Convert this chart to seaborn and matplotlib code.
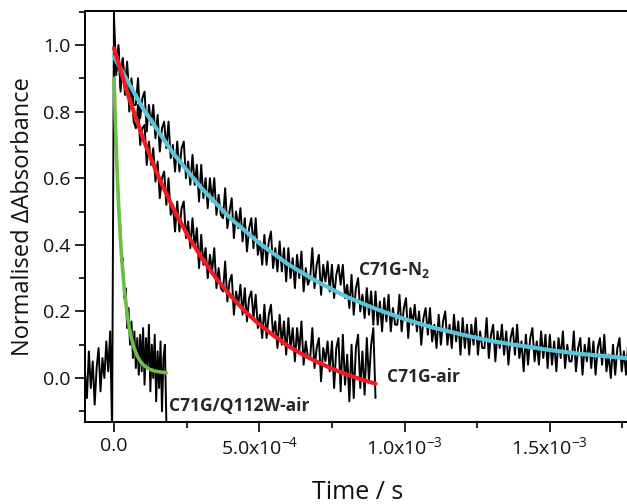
import numpy as np
import seaborn as sns
import matplotlib.pyplot as plt
from matplotlib.ticker import MultipleLocator

sns.set_theme(style="ticks")
plt.rcParams['font.family'] = ['Open Sans', 'DejaVu Sans']
plt.rcParams['mathtext.fontset'] = 'custom'
plt.rcParams['mathtext.rm'] = 'Open Sans'
plt.rcParams['mathtext.bf'] = 'Open Sans:bold'

# pre-trigger baseline, t = -1e-4 .. 0 s
base_t0, base_t1 = -1.0e-4, 0.0
base_y = [0.02, -0.06, 0.08, -0.03, 0.05, -0.08, 0.03, 0.09, -0.04, 0.06,
          0.00, 0.11, 0.02, 0.14, -0.16, 1.15]

# C71G-N2 trace, t = 0 .. 1.77e-3 s
n2_t1 = 1.77e-3
n2_y = [1.08, 0.91, 0.99, 0.86, 0.96, 0.87, 0.95, 0.83, 0.90, 0.82,
        0.82, 0.90, 0.78, 0.84, 0.86, 0.74, 0.82, 0.76, 0.82, 0.72,
        0.79, 0.68, 0.75, 0.77, 0.69, 0.77, 0.66, 0.70, 0.62, 0.71,
        0.62, 0.69, 0.71, 0.60, 0.65, 0.58, 0.67, 0.58, 0.64, 0.53,
        0.64, 0.54, 0.60, 0.51, 0.60, 0.53, 0.60, 0.49, 0.55, 0.49,
        0.48, 0.57, 0.45, 0.50, 0.54, 0.42, 0.50, 0.45, 0.51, 0.41,
        0.48, 0.38, 0.45, 0.48, 0.39, 0.48, 0.37, 0.41, 0.34, 0.43,
        0.34, 0.41, 0.44, 0.33, 0.39, 0.32, 0.41, 0.32, 0.39, 0.29,
        0.39, 0.30, 0.36, 0.27, 0.37, 0.30, 0.38, 0.26, 0.33, 0.28,
        0.30, 0.39, 0.27, 0.34, 0.37, 0.25, 0.34, 0.29, 0.35, 0.26,
        0.34, 0.24, 0.31, 0.34, 0.28, 0.34, 0.24, 0.28, 0.21, 0.31,
        0.19, 0.27, 0.30, 0.20, 0.25, 0.18, 0.27, 0.19, 0.26, 0.16,
        0.26, 0.16, 0.23, 0.14, 0.24, 0.17, 0.25, 0.14, 0.21, 0.16,
        0.16, 0.25, 0.14, 0.21, 0.24, 0.12, 0.21, 0.16, 0.22, 0.14,
        0.20, 0.10, 0.18, 0.21, 0.13, 0.21, 0.11, 0.16, 0.09, 0.19,
        0.10, 0.17, 0.20, 0.10, 0.16, 0.09, 0.19, 0.11, 0.17, 0.07,
        0.18, 0.09, 0.16, 0.07, 0.16, 0.10, 0.18, 0.07, 0.14, 0.09,
        0.09, 0.18, 0.06, 0.13, 0.16, 0.05, 0.14, 0.09, 0.16, 0.07,
        0.14, 0.04, 0.12, 0.15, 0.07, 0.16, 0.06, 0.11, 0.02, 0.13,
        0.04, 0.12, 0.15, 0.05, 0.11, 0.04, 0.14, 0.06, 0.13, 0.03,
        0.13, 0.04, 0.11, 0.02, 0.12, 0.06, 0.14, 0.03, 0.10, 0.05,
        0.05, 0.14, 0.02, 0.09, 0.12, 0.01, 0.10, 0.05, 0.12, 0.03,
        0.11, 0.01, 0.09, 0.12, 0.04, 0.13, 0.02, 0.07, 0.00, 0.10,
        0.01, 0.09, 0.12, 0.02, 0.08, 0.01, 0.11]

# C71G-air trace, t = 0 .. 9.0e-4 s
air_t1 = 9.0e-4
air_y = [1.03, 0.92, 1.00, 0.87, 0.96, 0.85, 0.93, 0.80, 0.88, 0.77,
         0.75, 0.82, 0.70, 0.75, 0.76, 0.64, 0.71, 0.64, 0.69, 0.59,
         0.65, 0.54, 0.60, 0.62, 0.52, 0.60, 0.49, 0.52, 0.44, 0.53,
         0.44, 0.51, 0.53, 0.42, 0.47, 0.39, 0.48, 0.39, 0.45, 0.33,
         0.43, 0.34, 0.39, 0.30, 0.37, 0.32, 0.39, 0.27, 0.33, 0.27,
         0.26, 0.35, 0.23, 0.29, 0.31, 0.19, 0.26, 0.22, 0.28, 0.19,
         0.27, 0.17, 0.24, 0.26, 0.18, 0.25, 0.15, 0.19, 0.12, 0.22,
         0.12, 0.19, 0.22, 0.13, 0.17, 0.09, 0.19, 0.10, 0.17, 0.07,
         0.18, 0.09, 0.15, 0.05, 0.15, 0.08, 0.17, 0.04, 0.11, 0.06,
         0.06, 0.15, 0.03, 0.09, 0.12, -0.01, 0.09, 0.05, 0.11, 0.02,
         0.11, -0.03, 0.09, 0.12, -0.04, 0.13, -0.02, 0.07, -0.07, 0.10,
         -0.06, 0.09, 0.13, -0.03, 0.08, -0.05, 0.12, -0.01, 0.10, 0.15,
         -0.06]

# C71G/Q112W-air trace, t = 0 .. 1.8e-4 s
q_t1 = 1.8e-4
q_y = [0.95, 0.70, 0.66, 0.50, 0.49, 0.35, 0.36, 0.24, 0.27, 0.15,
       0.21, 0.10, 0.17, 0.06, 0.14, 0.03, 0.12, 0.01, 0.13, 0.02,
       0.15, -0.02, 0.12, 0.03, 0.16, -0.04, 0.10, 0.00, 0.13, -0.07,
       0.08, -0.03, 0.11, -0.10, 0.06, 0.10, -0.13]

# fitted curves
n2_fit_t = [0, 1e-4, 2e-4, 3e-4, 4e-4, 5e-4, 6e-4, 7e-4, 8e-4, 9e-4, 1.0e-3,
            1.1e-3, 1.2e-3, 1.3e-3, 1.4e-3, 1.5e-3, 1.6e-3, 1.7e-3, 1.77e-3]
n2_fit_y = [0.964, 0.809, 0.679, 0.571, 0.480, 0.405, 0.341, 0.289, 0.244,
            0.208, 0.177, 0.151, 0.130, 0.111, 0.097, 0.084, 0.073, 0.065, 0.059]

air_fit_t = [0, 0.5e-4, 1.0e-4, 1.5e-4, 2.0e-4, 2.5e-4, 3.0e-4, 3.5e-4, 4.0e-4,
             4.5e-4, 5.0e-4, 5.5e-4, 6.0e-4, 6.5e-4, 7.0e-4, 7.5e-4, 8.0e-4,
             8.5e-4, 9.0e-4]
air_fit_y = [0.99, 0.845, 0.719, 0.610, 0.516, 0.434, 0.363, 0.301, 0.248,
             0.201, 0.161, 0.127, 0.096, 0.070, 0.048, 0.028, 0.011, -0.004, -0.017]

q_fit_t = [0, 0.5e-5, 1.0e-5, 1.5e-5, 2.0e-5, 2.5e-5, 3.0e-5, 3.5e-5, 4.0e-5,
           5.0e-5, 6.0e-5, 7.0e-5, 8.0e-5, 9.0e-5, 1.0e-4, 1.2e-4, 1.4e-4,
           1.6e-4, 1.8e-4]
q_fit_y = [0.90, 0.755, 0.634, 0.533, 0.448, 0.377, 0.318, 0.269, 0.227,
           0.163, 0.119, 0.088, 0.066, 0.051, 0.040, 0.027, 0.021, 0.018, 0.016]

fig = plt.figure(figsize=(6.27, 5.04), dpi=100)
ax = fig.add_axes([85 / 627, 82 / 504, 545 / 627, 411 / 504])

traces = [
    (np.linspace(base_t0, base_t1, len(base_y)), base_y),
    (np.linspace(0, n2_t1, len(n2_y)), n2_y),
    (np.linspace(0, air_t1, len(air_y)), air_y),
    (np.linspace(0, q_t1, len(q_y)), q_y),
]
for t, y in traces:
    sns.lineplot(x=t, y=y, ax=ax, color="black", lw=1.4, sort=False, estimator=None)

sns.lineplot(x=n2_fit_t, y=n2_fit_y, ax=ax, color="#5BC4D8", lw=3.0, sort=False, estimator=None)
sns.lineplot(x=air_fit_t, y=air_fit_y, ax=ax, color="#EE1D23", lw=3.0, sort=False, estimator=None)
sns.lineplot(x=q_fit_t, y=q_fit_y, ax=ax, color="#6DBE45", lw=2.6, sort=False, estimator=None)

ax.set_xlim(-1.0e-4, 1.776e-3)
ax.set_ylim(-0.132, 1.102)

ax.set_xticks([0, 5e-4, 1e-3, 1.5e-3])
ax.set_xticklabels(["0.0", "5.0x10$^{-4}$", "1.0x10$^{-3}$", "1.5x10$^{-3}$"])
ax.set_yticks([0, 0.2, 0.4, 0.6, 0.8, 1.0])
ax.set_yticklabels(["0.0", "0.2", "0.4", "0.6", "0.8", "1.0"])
ax.xaxis.set_minor_locator(MultipleLocator(2.5e-4))
ax.yaxis.set_minor_locator(MultipleLocator(0.1))
ax.tick_params(which="major", direction="out", length=7, width=1.2, labelsize=14,
               colors="black", labelcolor="#111111")
ax.tick_params(which="minor", direction="out", length=4, width=1.2, colors="black")
for s in ["left", "bottom", "top", "right"]:
    ax.spines[s].set_linewidth(1.4)
    ax.spines[s].set_color("black")

ax.set_xlabel("Time / s", fontsize=18, labelpad=15, color="#111111")
ax.set_ylabel("Normalised \u0394Absorbance", fontsize=17, labelpad=6, color="#111111")

ax.text(8.4e-4, 0.324, "C71G-N$_\\mathbf{2}$", fontsize=12.5, fontweight="bold", va="center")
ax.text(9.39e-4, 0.003, "C71G-air", fontsize=12.5, fontweight="bold", va="center")
ax.text(1.9e-4, -0.084, "C71G/Q112W-air", fontsize=12.5, fontweight="bold", va="center")

fig.savefig("out.png", dpi=100)
